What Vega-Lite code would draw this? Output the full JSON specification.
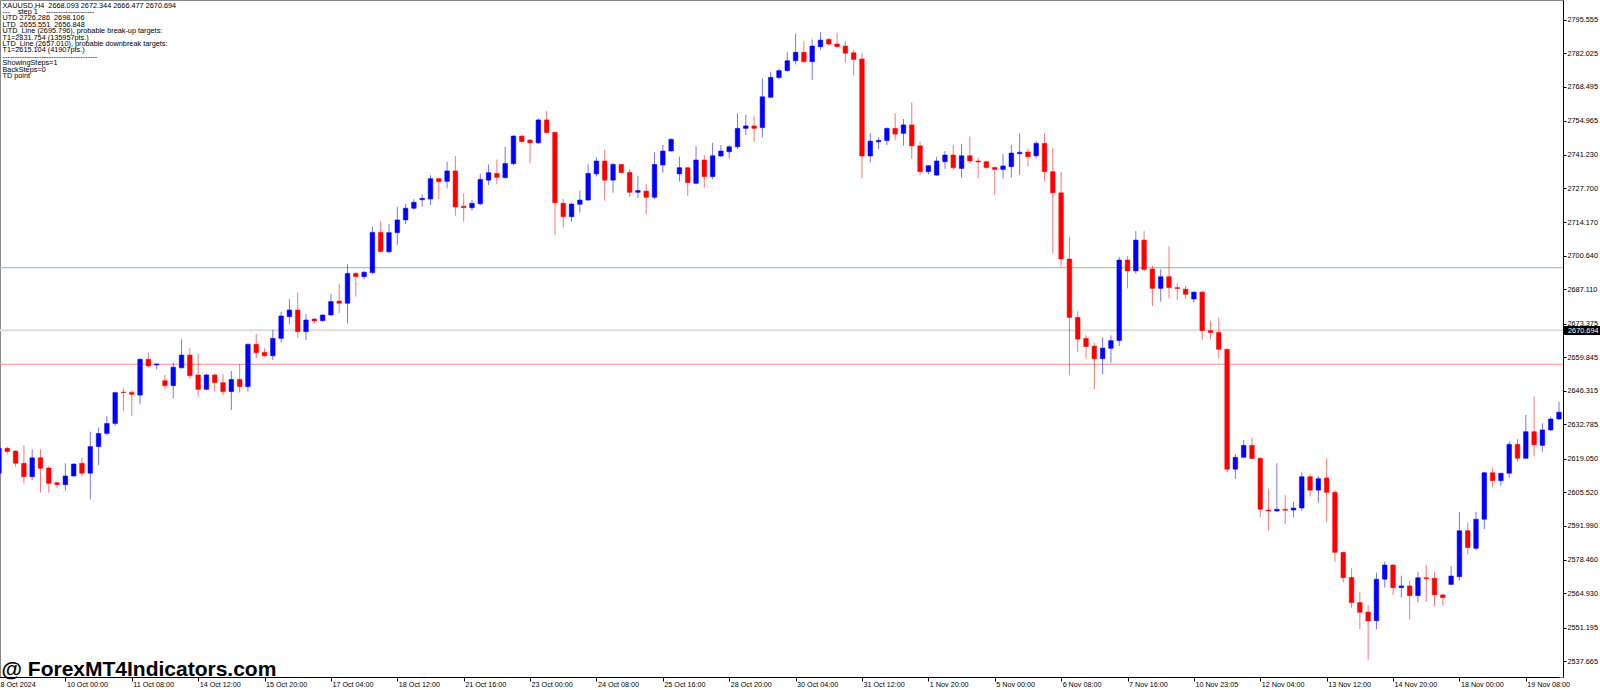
{
  "$schema": "https://vega.github.io/schema/vega-lite/v6.json",
  "width": 1563,
  "height": 677,
  "autosize": {"type": "none"},
  "padding": {"left": 0, "top": 0, "right": 37, "bottom": 13},
  "background": "white",
  "config": {"view": {"stroke": "#888888", "strokeWidth": 1}, "font": "Liberation Sans"},
  "resolve": {"axis": {"y": "independent"}},
  "datasets": {
    "lines": [
      {"name": "UTD_Line", "price": 2695.796},
      {"name": "LTD_Line", "price": 2657.010}
    ],
    "bid": [
      {"name": "Bid", "price": 2670.694}
    ],
    "bars": [
      {"t":"8 Oct 16:00","open":2613.2,"high":2623.9,"low":2612.5,"close":2623.2},
      {"t":"8 Oct 20:00","open":2623.2,"high":2623.9,"low":2620.9,"close":2621.9},
      {"t":"9 Oct 00:00","open":2622.1,"high":2622.5,"low":2615.8,"close":2617.2},
      {"t":"9 Oct 04:00","open":2617.2,"high":2624.5,"low":2609.1,"close":2611.8},
      {"t":"9 Oct 08:00","open":2611.8,"high":2622.8,"low":2610.5,"close":2619.4},
      {"t":"9 Oct 12:00","open":2619.4,"high":2622.8,"low":2605.4,"close":2615.2},
      {"t":"9 Oct 16:00","open":2615.3,"high":2616.1,"low":2605.4,"close":2609.1},
      {"t":"9 Oct 20:00","open":2609.4,"high":2609.8,"low":2607.1,"close":2608.6},
      {"t":"10 Oct 00:00","open":2608.6,"high":2617.2,"low":2606.2,"close":2612.1},
      {"t":"10 Oct 04:00","open":2612.1,"high":2617.2,"low":2611.8,"close":2616.9},
      {"t":"10 Oct 08:00","open":2617.2,"high":2619.4,"low":2611.8,"close":2613.2},
      {"t":"10 Oct 12:00","open":2613.2,"high":2629.9,"low":2602.7,"close":2623.9},
      {"t":"10 Oct 16:00","open":2623.9,"high":2631.6,"low":2616.5,"close":2629.2},
      {"t":"10 Oct 20:00","open":2629.2,"high":2636.2,"low":2628.4,"close":2633.2},
      {"t":"11 Oct 00:00","open":2633.2,"high":2646.0,"low":2632.2,"close":2645.6},
      {"t":"11 Oct 04:00","open":2645.8,"high":2647.3,"low":2638.2,"close":2645.6},
      {"t":"11 Oct 08:00","open":2645.7,"high":2646.4,"low":2636.3,"close":2644.9},
      {"t":"11 Oct 12:00","open":2644.6,"high":2659.4,"low":2640.9,"close":2659.0},
      {"t":"11 Oct 16:00","open":2659.0,"high":2661.7,"low":2655.8,"close":2656.3},
      {"t":"11 Oct 20:00","open":2656.7,"high":2657.4,"low":2655.0,"close":2657.1},
      {"t":"13 Oct 23:05","open":2650.4,"high":2652.7,"low":2646.9,"close":2648.4},
      {"t":"14 Oct 00:00","open":2648.4,"high":2657.6,"low":2643.3,"close":2655.8},
      {"t":"14 Oct 04:00","open":2655.6,"high":2667.0,"low":2655.2,"close":2660.7},
      {"t":"14 Oct 08:00","open":2660.7,"high":2663.4,"low":2651.1,"close":2652.4},
      {"t":"14 Oct 12:00","open":2652.7,"high":2661.4,"low":2644.2,"close":2646.9},
      {"t":"14 Oct 16:00","open":2646.9,"high":2653.3,"low":2646.6,"close":2652.7},
      {"t":"14 Oct 20:00","open":2652.7,"high":2653.3,"low":2646.0,"close":2649.6},
      {"t":"15 Oct 00:00","open":2649.6,"high":2653.1,"low":2644.6,"close":2646.0},
      {"t":"15 Oct 04:00","open":2646.0,"high":2654.3,"low":2638.6,"close":2650.9},
      {"t":"15 Oct 08:00","open":2650.9,"high":2657.1,"low":2645.6,"close":2648.0},
      {"t":"15 Oct 12:00","open":2648.0,"high":2665.4,"low":2646.0,"close":2665.0},
      {"t":"15 Oct 16:00","open":2665.0,"high":2669.2,"low":2659.4,"close":2661.6},
      {"t":"15 Oct 20:00","open":2661.8,"high":2663.4,"low":2660.0,"close":2660.4},
      {"t":"16 Oct 00:00","open":2660.4,"high":2670.8,"low":2658.7,"close":2667.4},
      {"t":"16 Oct 04:00","open":2667.4,"high":2678.1,"low":2665.7,"close":2676.4},
      {"t":"16 Oct 08:00","open":2676.1,"high":2683.1,"low":2673.0,"close":2678.8},
      {"t":"16 Oct 12:00","open":2678.8,"high":2685.8,"low":2667.7,"close":2670.1},
      {"t":"16 Oct 16:00","open":2670.1,"high":2677.1,"low":2666.7,"close":2674.8},
      {"t":"16 Oct 20:00","open":2675.2,"high":2675.5,"low":2673.4,"close":2674.4},
      {"t":"17 Oct 00:00","open":2674.5,"high":2677.0,"low":2674.1,"close":2676.8},
      {"t":"17 Oct 04:00","open":2676.8,"high":2685.2,"low":2676.4,"close":2682.2},
      {"t":"17 Oct 08:00","open":2682.4,"high":2689.3,"low":2677.5,"close":2681.5},
      {"t":"17 Oct 12:00","open":2681.5,"high":2697.2,"low":2673.4,"close":2693.5},
      {"t":"17 Oct 16:00","open":2693.5,"high":2694.2,"low":2684.2,"close":2692.2},
      {"t":"17 Oct 20:00","open":2692.2,"high":2694.5,"low":2691.1,"close":2694.0},
      {"t":"18 Oct 00:00","open":2693.8,"high":2712.3,"low":2693.3,"close":2710.0},
      {"t":"18 Oct 04:00","open":2710.0,"high":2714.3,"low":2702.0,"close":2702.3},
      {"t":"18 Oct 08:00","open":2702.2,"high":2713.4,"low":2701.6,"close":2709.9},
      {"t":"18 Oct 12:00","open":2709.9,"high":2720.3,"low":2704.9,"close":2715.0},
      {"t":"18 Oct 16:00","open":2715.0,"high":2721.4,"low":2713.4,"close":2719.7},
      {"t":"18 Oct 20:00","open":2719.7,"high":2723.3,"low":2719.0,"close":2722.1},
      {"t":"20 Oct 23:05","open":2723.1,"high":2725.3,"low":2720.3,"close":2723.7},
      {"t":"21 Oct 00:00","open":2723.4,"high":2733.0,"low":2721.0,"close":2731.6},
      {"t":"21 Oct 04:00","open":2731.6,"high":2732.1,"low":2723.4,"close":2730.4},
      {"t":"21 Oct 08:00","open":2730.5,"high":2738.4,"low":2727.7,"close":2734.7},
      {"t":"21 Oct 12:00","open":2734.7,"high":2740.7,"low":2716.7,"close":2720.2},
      {"t":"21 Oct 16:00","open":2720.5,"high":2725.7,"low":2714.3,"close":2719.9},
      {"t":"21 Oct 20:00","open":2719.9,"high":2723.0,"low":2718.7,"close":2721.7},
      {"t":"22 Oct 00:00","open":2721.5,"high":2733.5,"low":2721.0,"close":2731.3},
      {"t":"22 Oct 04:00","open":2731.0,"high":2737.3,"low":2729.0,"close":2734.0},
      {"t":"22 Oct 08:00","open":2733.7,"high":2739.3,"low":2729.3,"close":2732.1},
      {"t":"22 Oct 12:00","open":2732.0,"high":2744.4,"low":2731.6,"close":2737.7},
      {"t":"22 Oct 16:00","open":2737.6,"high":2749.1,"low":2736.9,"close":2748.7},
      {"t":"22 Oct 20:00","open":2748.7,"high":2749.1,"low":2745.8,"close":2746.5},
      {"t":"23 Oct 00:00","open":2747.1,"high":2747.4,"low":2737.7,"close":2746.0},
      {"t":"23 Oct 04:00","open":2746.0,"high":2755.8,"low":2745.5,"close":2755.2},
      {"t":"23 Oct 08:00","open":2755.2,"high":2758.8,"low":2749.8,"close":2750.1},
      {"t":"23 Oct 12:00","open":2750.2,"high":2750.5,"low":2708.9,"close":2721.9},
      {"t":"23 Oct 16:00","open":2721.7,"high":2723.4,"low":2712.0,"close":2716.3},
      {"t":"23 Oct 20:00","open":2716.3,"high":2721.9,"low":2714.3,"close":2721.4},
      {"t":"24 Oct 00:00","open":2721.3,"high":2726.8,"low":2717.9,"close":2723.0},
      {"t":"24 Oct 04:00","open":2723.0,"high":2737.3,"low":2722.7,"close":2733.7},
      {"t":"24 Oct 08:00","open":2733.5,"high":2740.2,"low":2732.4,"close":2738.7},
      {"t":"24 Oct 12:00","open":2738.7,"high":2743.1,"low":2722.7,"close":2731.0},
      {"t":"24 Oct 16:00","open":2731.0,"high":2738.0,"low":2726.0,"close":2737.3},
      {"t":"24 Oct 20:00","open":2737.3,"high":2737.5,"low":2733.7,"close":2734.0},
      {"t":"25 Oct 00:00","open":2734.1,"high":2735.5,"low":2724.3,"close":2726.1},
      {"t":"25 Oct 04:00","open":2726.1,"high":2732.6,"low":2723.9,"close":2726.8},
      {"t":"25 Oct 08:00","open":2726.6,"high":2729.4,"low":2717.2,"close":2724.1},
      {"t":"25 Oct 12:00","open":2724.1,"high":2742.2,"low":2723.4,"close":2737.3},
      {"t":"25 Oct 16:00","open":2737.1,"high":2745.1,"low":2734.0,"close":2742.7},
      {"t":"25 Oct 20:00","open":2742.7,"high":2747.8,"low":2742.4,"close":2747.4},
      {"t":"27 Oct 23:05","open":2733.5,"high":2740.4,"low":2730.4,"close":2736.0},
      {"t":"28 Oct 00:00","open":2736.0,"high":2736.4,"low":2724.7,"close":2730.0},
      {"t":"28 Oct 04:00","open":2729.7,"high":2744.7,"low":2729.3,"close":2739.1},
      {"t":"28 Oct 08:00","open":2739.1,"high":2741.1,"low":2728.0,"close":2732.4},
      {"t":"28 Oct 12:00","open":2732.4,"high":2746.0,"low":2731.4,"close":2740.8},
      {"t":"28 Oct 16:00","open":2740.7,"high":2745.1,"low":2740.2,"close":2742.7},
      {"t":"28 Oct 20:00","open":2742.4,"high":2745.1,"low":2739.8,"close":2744.4},
      {"t":"29 Oct 00:00","open":2744.4,"high":2757.9,"low":2743.5,"close":2751.8},
      {"t":"29 Oct 04:00","open":2751.8,"high":2757.2,"low":2749.1,"close":2752.8},
      {"t":"29 Oct 08:00","open":2752.8,"high":2756.9,"low":2746.4,"close":2751.8},
      {"t":"29 Oct 12:00","open":2752.1,"high":2771.9,"low":2748.2,"close":2764.5},
      {"t":"29 Oct 16:00","open":2764.3,"high":2774.6,"low":2763.9,"close":2772.3},
      {"t":"29 Oct 20:00","open":2772.2,"high":2775.7,"low":2771.6,"close":2775.0},
      {"t":"30 Oct 00:00","open":2775.0,"high":2782.4,"low":2774.6,"close":2779.0},
      {"t":"30 Oct 04:00","open":2779.0,"high":2790.0,"low":2777.5,"close":2782.4},
      {"t":"30 Oct 08:00","open":2782.4,"high":2786.9,"low":2778.2,"close":2778.6},
      {"t":"30 Oct 12:00","open":2778.6,"high":2787.6,"low":2771.2,"close":2784.9},
      {"t":"30 Oct 16:00","open":2784.6,"high":2790.4,"low":2783.3,"close":2787.3},
      {"t":"30 Oct 20:00","open":2787.6,"high":2788.0,"low":2785.0,"close":2785.7},
      {"t":"31 Oct 00:00","open":2785.7,"high":2790.3,"low":2784.4,"close":2784.6},
      {"t":"31 Oct 04:00","open":2784.9,"high":2786.9,"low":2778.2,"close":2782.0},
      {"t":"31 Oct 08:00","open":2782.2,"high":2783.3,"low":2773.2,"close":2779.5},
      {"t":"31 Oct 12:00","open":2779.7,"high":2782.0,"low":2731.7,"close":2740.7},
      {"t":"31 Oct 16:00","open":2740.7,"high":2749.8,"low":2738.1,"close":2746.7},
      {"t":"31 Oct 20:00","open":2746.4,"high":2748.1,"low":2743.5,"close":2747.0},
      {"t":"1 Nov 00:00","open":2746.9,"high":2752.2,"low":2745.1,"close":2751.8},
      {"t":"1 Nov 04:00","open":2751.8,"high":2757.9,"low":2747.1,"close":2749.5},
      {"t":"1 Nov 08:00","open":2749.8,"high":2755.6,"low":2744.8,"close":2753.2},
      {"t":"1 Nov 12:00","open":2753.2,"high":2762.3,"low":2739.5,"close":2744.8},
      {"t":"1 Nov 16:00","open":2744.8,"high":2746.4,"low":2733.0,"close":2734.4},
      {"t":"1 Nov 20:00","open":2734.4,"high":2737.1,"low":2733.3,"close":2736.8},
      {"t":"3 Nov 23:05","open":2733.0,"high":2740.4,"low":2732.8,"close":2738.7},
      {"t":"4 Nov 00:00","open":2738.4,"high":2742.7,"low":2735.5,"close":2741.1},
      {"t":"4 Nov 04:00","open":2741.1,"high":2745.1,"low":2735.1,"close":2736.0},
      {"t":"4 Nov 08:00","open":2735.7,"high":2745.5,"low":2732.0,"close":2740.8},
      {"t":"4 Nov 12:00","open":2740.8,"high":2748.5,"low":2737.8,"close":2738.7},
      {"t":"4 Nov 16:00","open":2738.7,"high":2740.0,"low":2731.7,"close":2738.3},
      {"t":"4 Nov 20:00","open":2738.4,"high":2738.8,"low":2735.7,"close":2736.1},
      {"t":"5 Nov 00:00","open":2736.1,"high":2736.4,"low":2725.0,"close":2735.3},
      {"t":"5 Nov 04:00","open":2735.3,"high":2741.5,"low":2731.7,"close":2736.7},
      {"t":"5 Nov 08:00","open":2736.4,"high":2745.1,"low":2732.1,"close":2741.9},
      {"t":"5 Nov 12:00","open":2741.6,"high":2749.8,"low":2733.1,"close":2742.2},
      {"t":"5 Nov 16:00","open":2742.3,"high":2743.8,"low":2736.4,"close":2740.4},
      {"t":"5 Nov 20:00","open":2740.8,"high":2746.7,"low":2739.8,"close":2745.8},
      {"t":"6 Nov 00:00","open":2745.8,"high":2749.8,"low":2730.6,"close":2734.4},
      {"t":"6 Nov 04:00","open":2734.4,"high":2744.0,"low":2701.6,"close":2725.9},
      {"t":"6 Nov 08:00","open":2725.9,"high":2734.4,"low":2696.2,"close":2699.3},
      {"t":"6 Nov 12:00","open":2699.3,"high":2708.3,"low":2652.7,"close":2675.8},
      {"t":"6 Nov 16:00","open":2675.8,"high":2678.4,"low":2661.8,"close":2667.1},
      {"t":"6 Nov 20:00","open":2667.4,"high":2668.7,"low":2659.1,"close":2664.1},
      {"t":"7 Nov 00:00","open":2664.3,"high":2665.7,"low":2646.9,"close":2659.2},
      {"t":"7 Nov 04:00","open":2659.2,"high":2667.8,"low":2652.9,"close":2663.5},
      {"t":"7 Nov 08:00","open":2663.4,"high":2668.7,"low":2657.6,"close":2666.5},
      {"t":"7 Nov 12:00","open":2666.5,"high":2700.2,"low":2664.3,"close":2698.9},
      {"t":"7 Nov 16:00","open":2698.9,"high":2700.5,"low":2687.5,"close":2694.5},
      {"t":"7 Nov 20:00","open":2694.5,"high":2710.5,"low":2693.3,"close":2706.9},
      {"t":"8 Nov 00:00","open":2706.9,"high":2710.5,"low":2694.2,"close":2695.1},
      {"t":"8 Nov 04:00","open":2695.3,"high":2696.5,"low":2680.4,"close":2687.5},
      {"t":"8 Nov 08:00","open":2687.5,"high":2695.2,"low":2682.2,"close":2692.2},
      {"t":"8 Nov 12:00","open":2692.2,"high":2704.3,"low":2683.5,"close":2687.8},
      {"t":"8 Nov 16:00","open":2687.8,"high":2689.5,"low":2682.8,"close":2687.4},
      {"t":"8 Nov 20:00","open":2687.2,"high":2688.6,"low":2683.1,"close":2685.1},
      {"t":"10 Nov 23:05","open":2683.2,"high":2686.3,"low":2681.8,"close":2686.0},
      {"t":"11 Nov 00:00","open":2686.0,"high":2686.4,"low":2666.7,"close":2670.5},
      {"t":"11 Nov 04:00","open":2670.5,"high":2674.4,"low":2667.0,"close":2669.7},
      {"t":"11 Nov 08:00","open":2669.8,"high":2675.7,"low":2659.4,"close":2663.0},
      {"t":"11 Nov 12:00","open":2663.0,"high":2663.4,"low":2613.6,"close":2614.8},
      {"t":"11 Nov 16:00","open":2614.8,"high":2620.8,"low":2610.9,"close":2619.6},
      {"t":"11 Nov 20:00","open":2619.6,"high":2626.5,"low":2619.2,"close":2624.4},
      {"t":"12 Nov 00:00","open":2624.4,"high":2627.5,"low":2618.8,"close":2619.1},
      {"t":"12 Nov 04:00","open":2619.2,"high":2619.5,"low":2595.5,"close":2598.7},
      {"t":"12 Nov 08:00","open":2598.4,"high":2606.9,"low":2590.1,"close":2598.0},
      {"t":"12 Nov 12:00","open":2598.0,"high":2617.2,"low":2597.7,"close":2598.7},
      {"t":"12 Nov 16:00","open":2598.7,"high":2604.4,"low":2592.6,"close":2598.3},
      {"t":"12 Nov 20:00","open":2598.4,"high":2601.7,"low":2595.5,"close":2599.2},
      {"t":"13 Nov 00:00","open":2599.2,"high":2613.6,"low":2598.1,"close":2611.8},
      {"t":"13 Nov 04:00","open":2611.8,"high":2612.8,"low":2603.8,"close":2606.4},
      {"t":"13 Nov 08:00","open":2606.4,"high":2612.1,"low":2601.3,"close":2611.0},
      {"t":"13 Nov 12:00","open":2611.3,"high":2619.2,"low":2593.7,"close":2605.5},
      {"t":"13 Nov 16:00","open":2605.5,"high":2606.4,"low":2577.6,"close":2581.4},
      {"t":"13 Nov 20:00","open":2581.4,"high":2581.7,"low":2569.3,"close":2571.2},
      {"t":"14 Nov 00:00","open":2571.3,"high":2575.0,"low":2559.2,"close":2561.2},
      {"t":"14 Nov 04:00","open":2561.2,"high":2565.6,"low":2550.6,"close":2557.3},
      {"t":"14 Nov 08:00","open":2557.4,"high":2560.2,"low":2538.1,"close":2553.8},
      {"t":"14 Nov 12:00","open":2553.9,"high":2573.2,"low":2550.5,"close":2570.6},
      {"t":"14 Nov 16:00","open":2570.6,"high":2577.7,"low":2567.3,"close":2576.3},
      {"t":"14 Nov 20:00","open":2576.3,"high":2576.6,"low":2564.3,"close":2567.2},
      {"t":"15 Nov 00:00","open":2567.2,"high":2572.0,"low":2563.3,"close":2567.9},
      {"t":"15 Nov 04:00","open":2567.9,"high":2569.9,"low":2554.5,"close":2564.0},
      {"t":"15 Nov 08:00","open":2564.0,"high":2573.6,"low":2561.2,"close":2571.2},
      {"t":"15 Nov 12:00","open":2571.2,"high":2576.3,"low":2561.6,"close":2570.8},
      {"t":"15 Nov 16:00","open":2571.0,"high":2573.6,"low":2559.6,"close":2564.3},
      {"t":"15 Nov 20:00","open":2564.3,"high":2564.5,"low":2560.0,"close":2563.2},
      {"t":"17 Nov 23:05","open":2568.5,"high":2575.9,"low":2568.3,"close":2571.9},
      {"t":"18 Nov 00:00","open":2571.6,"high":2597.5,"low":2570.0,"close":2590.1},
      {"t":"18 Nov 04:00","open":2590.1,"high":2593.5,"low":2580.6,"close":2583.3},
      {"t":"18 Nov 08:00","open":2583.0,"high":2597.7,"low":2582.3,"close":2594.7},
      {"t":"18 Nov 12:00","open":2594.7,"high":2613.8,"low":2590.7,"close":2613.4},
      {"t":"18 Nov 16:00","open":2613.4,"high":2615.4,"low":2607.5,"close":2610.2},
      {"t":"18 Nov 20:00","open":2610.2,"high":2613.4,"low":2608.2,"close":2613.2},
      {"t":"19 Nov 00:00","open":2613.2,"high":2625.9,"low":2611.4,"close":2624.8},
      {"t":"19 Nov 04:00","open":2624.8,"high":2627.0,"low":2617.9,"close":2619.2},
      {"t":"19 Nov 08:00","open":2619.2,"high":2636.6,"low":2618.8,"close":2629.9},
      {"t":"19 Nov 12:00","open":2629.9,"high":2643.9,"low":2620.1,"close":2624.6},
      {"t":"19 Nov 16:00","open":2624.4,"high":2633.3,"low":2621.8,"close":2630.6},
      {"t":"19 Nov 20:00","open":2630.6,"high":2635.9,"low":2630.1,"close":2635.0},
      {"t":"20 Nov 00:00","open":2635.0,"high":2641.8,"low":2634.7,"close":2637.7}
    ]
  },
  "layer": [
    {
      "data": {"name": "lines"},
      "mark": {"type": "rule"},
      "encoding": {
        "y": {"field": "price", "type": "quantitative", "scale": {"domain": [2531.3, 2803.4], "nice": false, "zero": false}, "axis": null},
        "color": {"field": "name", "type": "nominal", "scale": {"domain": ["UTD_Line", "LTD_Line"], "range": ["#90d890", "#ff8c8c"]}, "legend": null},
        "strokeWidth": {"value": 1.2}
      }
    },
    {
      "data": {"name": "bid"},
      "mark": {"type": "rule", "color": "#dcdcdc", "strokeWidth": 2},
      "encoding": {
        "y": {
          "field": "price", "type": "quantitative",
          "scale": {"domain": [2531.3, 2803.4], "nice": false, "zero": false},
          "axis": {
            "orient": "left", "offset": -1600, "values": [2670.694], "format": ".3f",
            "domain": false, "grid": false,
            "tickSize": 37, "tickWidth": 9, "tickColor": "black",
            "labelPadding": -35, "labelAlign": "right", "labelColor": "white",
            "labelFontSize": 7.3, "labelFont": "Liberation Sans", "labelBound": false, "labelFlush": false,
            "title": null
          }
        }
      }
    },
    {
      "data": {"name": "bars"},
      "mark": {"type": "rule", "strokeWidth": 1, "opacity": 0.55},
      "encoding": {
        "x": {
          "field": "t", "type": "ordinal", "sort": null,
          "scale": {"type": "point", "padding": 0, "range": [-1, 1559]},
          "axis": {
            "orient": "bottom",
            "values": ["8 Oct 16:00","10 Oct 00:00","11 Oct 08:00","14 Oct 12:00","15 Oct 20:00","17 Oct 04:00","18 Oct 12:00","21 Oct 16:00","23 Oct 00:00","24 Oct 08:00","25 Oct 16:00","28 Oct 20:00","30 Oct 04:00","31 Oct 12:00","1 Nov 20:00","5 Nov 00:00","6 Nov 08:00","7 Nov 16:00","10 Nov 23:05","12 Nov 04:00","13 Nov 12:00","14 Nov 20:00","18 Nov 00:00","19 Nov 08:00"],
            "labelExpr": "datum.label == '8 Oct 16:00' ? '8 Oct 2024' : datum.label",
            "labelAngle": 0,
            "labelAlign": "left", "labelBaseline": "top", "labelPadding": -1, "labelOffset": 1,
            "labelFontSize": 7.2, "labelColor": "black", "labelFont": "Liberation Sans",
            "labelOverlap": false, "labelBound": false, "labelFlush": false,
            "tickSize": 4, "tickColor": "black", "domainColor": "black", "grid": false,
            "title": "@ ForexMT4Indicators.com",
            "titleX": 1, "titleY": -2, "titleAlign": "left", "titleAnchor": "start", "titleBaseline": "alphabetic",
            "titleFontSize": 21, "titleFontWeight": "bold", "titleColor": "black", "titleFont": "Liberation Sans"
          }
        },
        "y": {
          "field": "low", "type": "quantitative",
          "scale": {"domain": [2531.3, 2803.4], "nice": false, "zero": false},
          "axis": {
            "orient": "right",
            "values": [2795.555, 2782.025, 2768.495, 2754.965, 2741.230, 2727.700, 2714.170, 2700.640, 2687.110, 2673.375, 2659.845, 2646.315, 2632.785, 2619.050, 2605.520, 2591.990, 2578.460, 2564.930, 2551.195, 2537.665],
            "format": ".3f",
            "labelFontSize": 7.3, "labelFont": "Liberation Sans", "labelColor": "black",
            "labelOverlap": false, "labelBound": false, "labelFlush": false,
            "tickSize": 3, "tickColor": "black", "labelPadding": 1,
            "domainColor": "black", "grid": false,
            "title": ["XAUUSD,H4\u00a0\u00a02668.093 2672.344 2666.477 2670.694", "---\u00a0\u00a0\u00a0\u00a0step 1\u00a0\u00a0\u00a0\u00a0--------------------", "UTD 2726.286\u00a0\u00a02698.106", "LTD\u00a0\u00a02655.551\u00a0\u00a02656.848", "UTD_Line (2695.796), probable break-up targets:", "T1=2831.754 (135957pts.)", "LTD_Line (2657.010), probable downbreak targets:", "T1=2615.104 (41907pts.)", "---------------------------------------", "ShowingSteps=1", "BackSteps=0", "TD point"],
            "titleAngle": 0, "titleX": -1561, "titleY": 1, "titleAlign": "left", "titleBaseline": "top",
            "titleFontSize": 7.3, "titleFontWeight": "normal", "titleLineHeight": 6.4, "titleColor": "black", "titleFont": "Liberation Sans"
          }
        },
        "y2": {"field": "high"},
        "color": {"condition": {"test": "datum.close >= datum.open", "value": "#0000ff"}, "value": "#ff0000"}
      }
    },
    {
      "data": {"name": "bars"},
      "mark": {"type": "bar", "width": 4.6, "strokeWidth": 0.5},
      "encoding": {
        "x": {"field": "t", "type": "ordinal", "sort": null, "scale": {"type": "point", "padding": 0, "range": [-1, 1559]}},
        "y": {"field": "open", "type": "quantitative", "scale": {"domain": [2531.3, 2803.4], "nice": false, "zero": false}, "axis": null},
        "y2": {"field": "close"},
        "color": {"condition": {"test": "datum.close >= datum.open", "value": "#0000ff"}, "value": "#ff0000"},
        "stroke": {"condition": {"test": "datum.close >= datum.open", "value": "#0000ff"}, "value": "#ff0000"}
      }
    }
  ]
}
